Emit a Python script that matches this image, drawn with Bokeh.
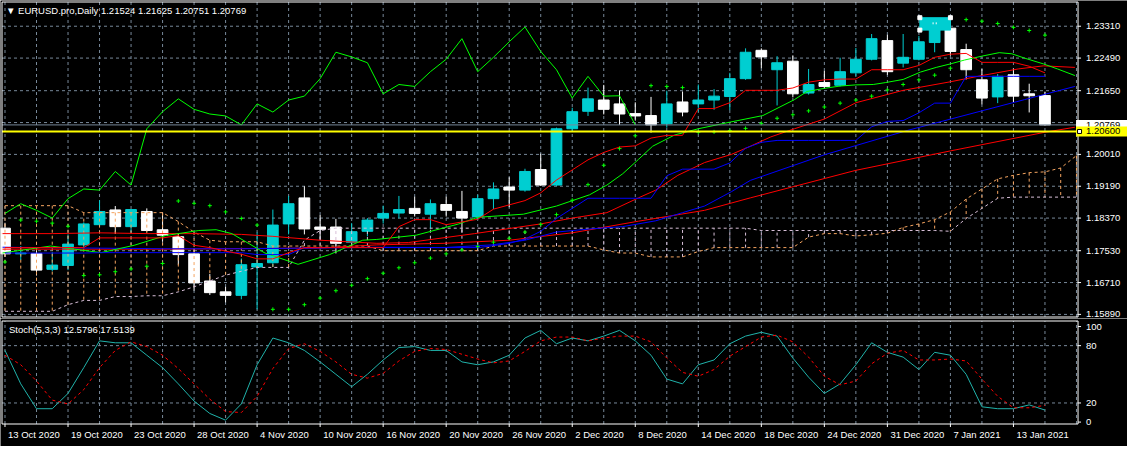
from bokeh.plotting import figure
from bokeh.models import Range1d, Label, ColumnDataSource
from bokeh.layouts import column
from bokeh.embed import file_html
from bokeh.resources import INLINE
from bokeh.core.properties import value

# ---------------- data ----------------
tick_labels = ["13 Oct 2020", "19 Oct 2020", "23 Oct 2020", "28 Oct 2020", "4 Nov 2020", "10 Nov 2020",
               "16 Nov 2020", "20 Nov 2020", "26 Nov 2020", "2 Dec 2020", "8 Dec 2020", "14 Dec 2020",
               "18 Dec 2020", "24 Dec 2020", "31 Dec 2020", "7 Jan 2021", "13 Jan 2021"]
tick_bars = [0, 4, 8, 12, 16, 20, 24, 28, 32, 36, 40, 44, 48, 52, 56, 60, 64]

price_labels = [1.1589, 1.1671, 1.1753, 1.1837, 1.1919, 1.2001, 1.2165, 1.2249, 1.2331]
price_grid = [1.1589, 1.1671, 1.1753, 1.1837, 1.1919, 1.2001, 1.2083, 1.2165, 1.2249, 1.2331]
stoch_labels = [0, 20, 80, 100]
stoch_levels = [20, 80]

opens = [1.1811, 1.1745, 1.1746, 1.1705, 1.1715, 1.1768, 1.1820, 1.1858, 1.1815, 1.1854,
         1.1807, 1.1789, 1.1745, 1.1675, 1.1647, 1.1638, 1.1711, 1.1722, 1.1822, 1.1889,
         1.1814, 1.1814, 1.1775, 1.1803, 1.1837, 1.1850, 1.1862, 1.1847, 1.1872, 1.1854,
         1.1840, 1.1887, 1.1917, 1.1909, 1.1962, 1.1922, 1.2067, 1.2112, 1.2141, 1.2131,
         1.2106, 1.2101, 1.2080, 1.2136, 1.2131, 1.2141, 1.2150, 1.2196, 1.2269, 1.2219,
         1.2241, 1.2159, 1.2186, 1.2179, 1.2211, 1.2246, 1.2294, 1.2236, 1.2246, 1.2289,
         1.2326, 1.2271, 1.2193, 1.2149, 1.2206, 1.2157, 1.21524]
highs = [1.1825, 1.1765, 1.1756, 1.1749, 1.1795, 1.1826, 1.1883, 1.1868, 1.1860, 1.1862,
         1.1851, 1.1798, 1.1760, 1.1693, 1.1660, 1.1733, 1.1800, 1.1859, 1.1894, 1.1919,
         1.1845, 1.1835, 1.1824, 1.1837, 1.1869, 1.1894, 1.1892, 1.1885, 1.1892, 1.1907,
         1.1897, 1.1929, 1.1942, 1.1964, 1.2003, 1.2070, 1.2121, 1.2173, 1.2180, 1.2166,
         1.2135, 1.2149, 1.2165, 1.2163, 1.2181, 1.2169, 1.2211, 1.2274, 1.2274, 1.2254,
         1.2256, 1.2221, 1.2216, 1.2250, 1.2275, 1.2311, 1.2309, 1.2311, 1.2306, 1.2346,
         1.2346, 1.2286, 1.2221, 1.2208, 1.2222, 1.2183, 1.21625]
lows = [1.1737, 1.1729, 1.1689, 1.1700, 1.1703, 1.1760, 1.1815, 1.1796, 1.1800, 1.1802,
        1.1776, 1.1717, 1.1650, 1.1639, 1.1620, 1.1628, 1.1602, 1.1711, 1.1795, 1.1795,
        1.1780, 1.1746, 1.1760, 1.1790, 1.1823, 1.1836, 1.1841, 1.1809, 1.1841, 1.1800,
        1.1832, 1.1860, 1.1865, 1.1905, 1.1920, 1.1920, 1.2059, 1.2100, 1.2104, 1.2077,
        1.2088, 1.2057, 1.2070, 1.2099, 1.2111, 1.2116, 1.2115, 1.2193, 1.2223, 1.2127,
        1.2148, 1.2155, 1.2171, 1.2176, 1.2203, 1.2243, 1.2206, 1.2225, 1.2243, 1.2264,
        1.2255, 1.2194, 1.2130, 1.2133, 1.2134, 1.2109, 1.20751]
closes = [1.1745, 1.1747, 1.1703, 1.1716, 1.1770, 1.1822, 1.1854, 1.1815, 1.1859, 1.1805,
          1.1793, 1.1743, 1.1670, 1.1645, 1.1638, 1.1717, 1.1720, 1.1819, 1.1874, 1.1809,
          1.1808, 1.1772, 1.1802, 1.1832, 1.1849, 1.1859, 1.1849, 1.1874, 1.1857, 1.1837,
          1.1887, 1.1912, 1.1909, 1.1957, 1.1922, 1.2067, 1.2111, 1.2144, 1.2117, 1.2105,
          1.2100, 1.2077, 1.2131, 1.2110, 1.2141, 1.2151, 1.2196, 1.2264, 1.2252, 1.2237,
          1.2157, 1.2181, 1.2176, 1.2214, 1.2246, 1.2299, 1.2214, 1.2251, 1.2291, 1.2329,
          1.2266, 1.2219, 1.2146, 1.2202, 1.2151, 1.2152, 1.20769]

tenkan = [1.1761, 1.1761, 1.1761, 1.1761, 1.1761, 1.1761, 1.1786, 1.1786, 1.1786, 1.1786,
          1.1786, 1.1792, 1.1767, 1.1761, 1.1752, 1.1744, 1.1732, 1.1732, 1.1748, 1.1761,
          1.1761, 1.1761, 1.1761, 1.1761, 1.1761, 1.1815, 1.1833, 1.1833, 1.1820, 1.1827,
          1.1834, 1.1860, 1.1871, 1.1882, 1.1902, 1.1935, 1.1961, 1.1987, 1.2006, 1.2020,
          1.2023, 1.2043, 1.2050, 1.2050, 1.2119, 1.2119, 1.2134, 1.2166, 1.2166, 1.2166,
          1.2172, 1.2187, 1.2193, 1.2195, 1.2195, 1.2219, 1.2219, 1.2219, 1.2230, 1.2251,
          1.2259, 1.2261, 1.2238, 1.2238, 1.2238, 1.2228, 1.2211]
kijun = [1.1747, 1.1747, 1.1747, 1.1747, 1.1747, 1.1747, 1.1748, 1.1748, 1.1748, 1.1748,
         1.1748, 1.1748, 1.1748, 1.1748, 1.1748, 1.1748, 1.1743, 1.1743, 1.1743, 1.1761,
         1.1761, 1.1761, 1.1761, 1.1761, 1.1761, 1.1761, 1.1761, 1.1761, 1.1761, 1.1761,
         1.1761, 1.1766, 1.1772, 1.1783, 1.1803, 1.1836, 1.1862, 1.1888, 1.1888, 1.1888,
         1.1888, 1.1888, 1.1946, 1.1963, 1.1963, 1.1963, 1.1979, 1.2017, 1.2032, 1.2037,
         1.2037, 1.2037, 1.2037, 1.2037, 1.2037, 1.2072, 1.2086, 1.2088, 1.2108, 1.2133,
         1.2133, 1.2202, 1.2202, 1.2202, 1.2202, 1.2202, 1.2202]
span_a = [1.1869, 1.1869, 1.1869, 1.1869, 1.1869, 1.1851, 1.1851, 1.1851, 1.1851, 1.1851,
          1.1851, 1.1828, 1.1801, 1.1780, 1.1776, 1.1776, 1.1776, 1.1765, 1.1765, 1.1765,
          1.1765, 1.1765, 1.1765, 1.1765, 1.1753, 1.1753, 1.1753, 1.1753, 1.1753, 1.1753,
          1.1753, 1.1765, 1.1765, 1.1765, 1.1765, 1.1765, 1.1765, 1.1765, 1.1755, 1.1747,
          1.1747, 1.1737, 1.1737, 1.1737, 1.1751, 1.1761, 1.1761, 1.1761, 1.1761, 1.1761,
          1.1761, 1.1788, 1.1797, 1.1797, 1.1791, 1.1794, 1.1798, 1.1813, 1.1822, 1.1833,
          1.1853, 1.1886, 1.1912, 1.1938, 1.1947, 1.1954, 1.1956, 1.1966, 1.1998]
span_b = [1.1597, 1.1597, 1.1597, 1.1597, 1.1614, 1.1625, 1.1625, 1.1635, 1.1635, 1.1637,
          1.1637, 1.1647, 1.1660, 1.1675, 1.1690, 1.1700, 1.1710, 1.1710, 1.1710, 1.1780,
          1.1805, 1.1811, 1.1811, 1.1811, 1.1811, 1.1811, 1.1811, 1.1811, 1.1811, 1.1811,
          1.1811, 1.1811, 1.1811, 1.1811, 1.1811, 1.1811, 1.1811, 1.1811, 1.1811, 1.1811,
          1.1811, 1.1811, 1.1811, 1.1811, 1.1811, 1.1811, 1.1811, 1.1811, 1.1805, 1.1805,
          1.1805, 1.1805, 1.1805, 1.1805, 1.1805, 1.1805, 1.1805, 1.1805, 1.1805, 1.1805,
          1.1803, 1.1836, 1.1862, 1.1888, 1.1891, 1.1891, 1.1891, 1.1891, 1.1891]

ma_red_x = [-0.2, 3, 6, 9, 12, 15, 17, 20, 23.6, 25.6, 29.8, 34, 36, 38.2, 40.2, 41.3, 42.7, 44.4,
            46.1, 47.3, 48.6, 50.1, 52, 54, 57, 60, 62, 64.3, 65.9, 67.9]
ma_red_y = [1.1797, 1.1797, 1.1799, 1.1797, 1.1797, 1.1795, 1.1790, 1.1780, 1.1772, 1.1774, 1.1797,
            1.1822, 1.1837, 1.1851, 1.1889, 1.1909, 1.1947, 1.1980, 1.2001, 1.2022, 1.2046, 1.2067,
            1.2092, 1.2134, 1.2166, 1.2188, 1.2204, 1.2221, 1.2229, 1.2225]
ma_long_x = [-0.2, 10, 20, 23.6, 27.8, 32, 36, 40.2, 44.4, 47.3, 54, 60, 66, 67.9]
ma_long_y = [1.1757, 1.1757, 1.1760, 1.1768, 1.1772, 1.1780, 1.1799, 1.1829, 1.1857, 1.1889,
             1.1960, 1.2010, 1.2058, 1.2071]
ma_blue_x = [-0.2, 5, 10, 15, 20, 23.6, 27.8, 30.9, 33, 35, 37.1, 39.2, 41.3, 43, 44.4, 46.1, 47.3,
             52, 57.3, 64.7, 67.9]
ma_blue_y = [1.1762, 1.1760, 1.1758, 1.1758, 1.1760, 1.1762, 1.1761, 1.1768, 1.1780, 1.1801, 1.1809,
             1.1815, 1.1830, 1.1851, 1.1868, 1.1905, 1.1934, 1.2000, 1.2063, 1.2142, 1.2176]
ma_green_x = [-0.2, 2.9, 6.1, 8.2, 10.2, 12.3, 13.4, 14.4, 16.5, 18.6, 20.6, 22.7, 23.6, 26.1, 28.8,
              30, 32.9, 35, 37.1, 38.2, 39.2, 40.2, 41.1, 42.5, 44, 46, 48.1, 50.1, 50.9, 52, 53, 54,
              55.1, 55.9, 57, 58.1, 59.1, 60, 60.9, 62, 63.1, 63.9, 64.7, 65.9, 66.8, 67.9]
ma_green_y = [1.1747, 1.1765, 1.1748, 1.1767, 1.1792, 1.1805, 1.1807, 1.1797, 1.1747, 1.1718, 1.1743,
              1.1780, 1.1782, 1.1793, 1.1822, 1.1839, 1.1847, 1.1868, 1.1897, 1.1922, 1.1951, 1.1988,
              1.2022, 1.2051, 1.2067, 1.2084, 1.2101, 1.2142, 1.2163, 1.2171, 1.2177, 1.2180, 1.2181,
              1.2186, 1.2194, 1.2213, 1.2225, 1.2234, 1.2244, 1.2254, 1.2263, 1.2260, 1.2249, 1.2234,
              1.2221, 1.2204]

sar = [1.1724, 1.1832, 1.1829, 1.1824, 1.1816, 1.1689, 1.1691, 1.1699, 1.1706, 1.1713,
       1.1720, 1.1881, 1.1875, 1.1869, 1.1853, 1.1836, 1.1819, 1.1602, 1.1602, 1.1614,
       1.1631, 1.1650, 1.1664, 1.1681, 1.1695, 1.1709, 1.1722, 1.1734, 1.1745, 1.1755,
       1.1764, 1.1775, 1.1785, 1.1801, 1.1821, 1.1846, 1.1883, 1.1923, 1.1973, 1.2016,
       1.2049, 1.2178, 1.2176, 1.2173, 1.2058, 1.2059, 1.2062, 1.2068, 1.2081, 1.2094,
       1.2103, 1.2113, 1.2123, 1.2133, 1.2141, 1.2151, 1.2167, 1.2181, 1.2193, 1.2205,
       1.2223, 1.2348, 1.2344, 1.2338, 1.2328, 1.2320, 1.2308]

stoch_k = [75, 40, 14, 14, 30, 57, 85, 83, 83, 70, 57, 40, 22, 9, 2, 19, 60, 88, 83, 75,
           63, 50, 37, 50, 65, 78, 79, 75, 75, 63, 60, 63, 70, 88, 96, 82, 88, 85, 90, 96,
           85, 70, 45, 40, 60, 65, 82, 90, 94, 90, 67, 47, 30, 40, 60, 83, 73, 68, 55, 73,
           70, 50, 16, 14, 14, 18, 12.58]
stoch_d = [70, 60, 43, 23, 19, 34, 57, 75, 84, 79, 70, 56, 40, 24, 11, 10, 27, 56, 77, 82,
           74, 63, 50, 46, 51, 64, 74, 77, 76, 71, 66, 62, 64, 74, 85, 89, 89, 85, 88, 90,
           90, 84, 67, 52, 48, 55, 69, 79, 89, 91, 84, 68, 48, 39, 43, 61, 72, 75, 65, 65,
           66, 64, 45, 27, 15, 15, 17.51]

title_text = "\u25bc EURUSD.pro,Daily  1.21524 1.21625 1.20751 1.20769"
stoch_title = "Stoch(5,3,3) 12.5796 17.5139"
hline_price = 1.2060
bid_price = 1.20769

# ---------------- geometry / styling ----------------
W = 1127
PXB = 15.757                      # pixels per bar
XB, X1 = -0.19, 68.1              # visible chart area (left / right border, in bars)
X0 = XB - 1.5 / PXB
XE = X0 + W / PXB                 # right end of the canvas (price scale area)

HP = 318
YB, YT = 1.15823, 1.23934         # price area borders
UPP = (YT - YB) / 315.0           # price units per pixel
P_LO, P_HI = YB - 1.5 * UPP, YT + 1.5 * UPP

HS = 128
SB, ST = -2.0, 105.8              # stochastic area borders
UPS = (ST - SB) / 103.0
S_HI = ST + 2.5 * UPS
S_LO = S_HI - HS * UPS

GRID = "#778899"
BULL = "#00CED1"
FONT = "Liberation Sans"
FS = "9.5px"


def make_fig(height, y0, y1):
    f = figure(width=W, height=height, x_range=Range1d(X0, XE), y_range=Range1d(y0, y1),
               toolbar_location=None, output_backend="svg", x_axis_location=None,
               y_axis_location=None, min_border_left=0, min_border_right=0,
               min_border_top=0, min_border_bottom=0,
               background_fill_color="black", border_fill_color="black",
               outline_line_color=None)
    f.xgrid.visible = False
    f.ygrid.visible = False
    return f


def scale_texts(f, levels, txt):
    # tick marks and labels of the right-hand scale
    f.segment(x0=[X1] * len(levels), y0=levels, x1=[X1 + 3 / PXB] * len(levels), y1=levels,
              line_color="white", line_width=1)
    f.text(x=[X1 + 8 / PXB] * len(levels), y=levels, text=txt, text_color="white",
           text_font=value(FONT), text_font_size=value(FS), text_baseline="middle",
           text_align="left")


def vgrid(f, y0, y1):
    gx = list(range(0, 69, 2))
    f.segment(x0=gx, y0=[y0] * len(gx), x1=gx, y1=[y1] * len(gx), line_color=GRID,
              line_dash="3 3", line_width=1)


def hgrid(f, levels):
    f.segment(x0=[XB] * len(levels), y0=levels, x1=[X1] * len(levels), y1=levels,
              line_color=GRID, line_dash="3 3", line_width=1)


# ---------------- price panel ----------------
p = make_fig(HP, P_LO, P_HI)
vgrid(p, YB, YT)
hgrid(p, price_grid)

n = len(closes)
bars = list(range(n))
is_up = [c >= o for o, c in zip(opens, closes)]
csrc = ColumnDataSource(dict(
    x=bars, h=highs, l=lows,
    top=[max(o, c) for o, c in zip(opens, closes)],
    bot=[min(o, c) for o, c in zip(opens, closes)],
    col=[BULL if u else "white" for u in is_up]))
p.segment(x0="x", y0="h", x1="x", y1="l", line_color="col", line_width=1, source=csrc)
p.vbar(x="x", width=0.68, top="top", bottom="bot", fill_color="col", line_color="col",
       line_width=1, source=csrc)

# Ichimoku cloud (dotted histogram + span lines)
cb = list(range(len(span_a)))
ccol = ["#F4A460" if a >= b else "#D8BFD8" for a, b in zip(span_a, span_b)]
p.segment(x0=cb, y0=span_a, x1=cb, y1=span_b, line_color=ccol, line_dash="3 3", line_width=1)
p.line(cb, span_a, line_color="#F4A460", line_dash="3 3", line_width=1)
p.line(cb, span_b, line_color="#D8BFD8", line_dash="3 3", line_width=1)

# moving averages
p.line(ma_long_x, ma_long_y, line_color="red", line_width=1)
p.line(ma_blue_x, ma_blue_y, line_color="blue", line_width=1)
p.line(ma_red_x, ma_red_y, line_color="red", line_width=1)
p.line(ma_green_x, ma_green_y, line_color="lime", line_width=1)

# tenkan / kijun / chikou
p.line(bars, kijun, line_color="blue", line_width=1)
p.line(bars, tenkan, line_color="red", line_width=1)
chikou_x = list(range(len(closes) - 26))
p.line(chikou_x, closes[26:], line_color="lime", line_width=1)

# parabolic SAR
p.scatter(bars, sar, marker="cross", size=4, line_color="lime", line_width=1)

# horizontal lines (bid + user line)
p.segment(x0=[XB], y0=[bid_price], x1=[X1], y1=[bid_price], line_color=GRID, line_width=1)
p.segment(x0=[XB], y0=[hline_price], x1=[X1], y1=[hline_price], line_color="yellow", line_width=2)

# selected object near the top
p.quad(left=[58.06], right=[60.0], top=[1.2353], bottom=[1.2321], fill_color=BULL, line_color=BULL)
p.segment(x0=[58.9, 59.1], y0=[1.2336, 1.2336], x1=[58.9, 59.1], y1=[1.2341, 1.2341],
          line_color="white", line_width=1)
p.scatter([58.06, 60.0, 58.06], [1.2353, 1.2353, 1.2321], marker="square", size=4,
          fill_color="white", line_color="white")

# frame border
p.quad(left=[XB], right=[X1], top=[YT], bottom=[YB], fill_color=None, line_color="white",
       line_width=1)

# price scale
scale_texts(p, price_labels, ["%.5f" % v for v in price_labels])
half = 5 * UPP
p.quad(left=[X1 - 2 / PXB], right=[XE], top=[bid_price + half], bottom=[bid_price - half],
       fill_color="white", line_color=None)
p.text(x=[X1 + 8 / PXB], y=[bid_price], text=["%.5f" % bid_price], text_color="black",
       text_font=value(FONT), text_font_size=value(FS), text_baseline="middle", text_align="left")
p.quad(left=[X1 - 2 / PXB], right=[XE], top=[hline_price + half], bottom=[hline_price - half],
       fill_color="yellow", line_color=None)
p.text(x=[X1 + 8 / PXB], y=[hline_price], text=["%.5f" % hline_price], text_color="black",
       text_font=value(FONT), text_font_size=value(FS), text_baseline="middle", text_align="left")
p.scatter([X1 + 1.5 / PXB], [hline_price], marker="square", size=4, fill_color="white",
          line_color="black", line_width=1)

p.add_layout(Label(x=XB, y=YT, x_offset=4, y_offset=-3, text=title_text, text_baseline="top",
                   text_align="left", text_color="white", text_font=FONT, text_font_size=FS))

# ---------------- stochastic panel ----------------
q = make_fig(HS, S_LO, S_HI)
vgrid(q, SB, ST)
hgrid(q, stoch_levels)
q.line(bars, stoch_k, line_color="#20B2AA", line_width=1)
q.line(bars, stoch_d, line_color="red", line_width=1, line_dash="3 3")
q.quad(left=[XB], right=[X1], top=[ST], bottom=[SB], fill_color=None, line_color="white",
       line_width=1)
scale_texts(q, stoch_labels, [str(v) for v in stoch_labels])
q.add_layout(Label(x=XB, y=ST, x_offset=7, y_offset=-3, text=stoch_title, text_baseline="top",
                   text_align="left", text_color="white", text_font=FONT, text_font_size=FS))

# time scale under the stochastic panel
q.segment(x0=tick_bars, y0=[SB] * len(tick_bars), x1=tick_bars,
          y1=[SB - 3 * UPS] * len(tick_bars), line_color="white", line_width=1)
q.text(x=[b + 3 / PXB for b in tick_bars], y=[SB - 5 * UPS] * len(tick_bars), text=tick_labels,
       text_color="white", text_font=value(FONT), text_font_size=value(FS), text_baseline="top",
       text_align="left")

layout = column(p, q, spacing=0)
open("out.html", "w").write(file_html(layout, INLINE))
